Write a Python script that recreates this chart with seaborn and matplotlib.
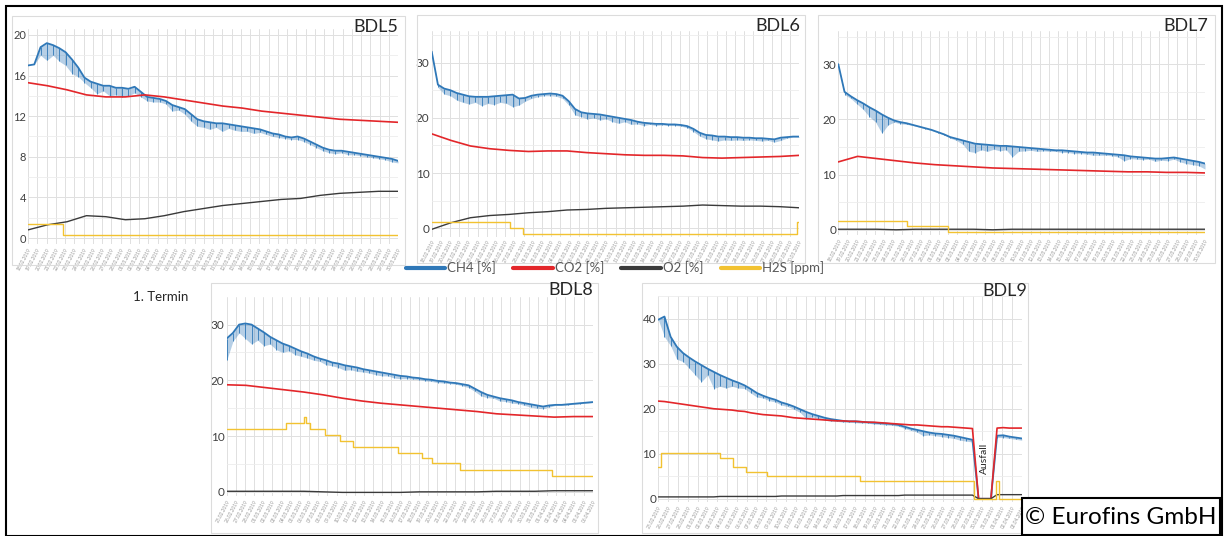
import numpy as np
import pandas as pd
import matplotlib
matplotlib.use("Agg")
import matplotlib.pyplot as plt
import seaborn as sns
from matplotlib.lines import Line2D
from matplotlib.patches import Rectangle

# -------------------------- data --------------------------
SERIES = ["CH4 [%]", "CO2 [%]", "O2 [%]", "H2S [ppm]"]

# CH4: main line + lower edge of the spiky band, 60 samples over the time axis
bdl5_ch4 = [17.0, 17.1, 18.8, 19.2, 19.0, 18.7, 18.3, 17.6, 16.8, 15.8,
            15.4, 15.2, 15.0, 15.0, 14.8, 14.8, 14.7, 14.9, 14.4, 13.9,
            13.8, 13.7, 13.5, 13.1, 12.9, 12.7, 12.2, 11.7, 11.5, 11.4,
            11.3, 11.3, 11.2, 11.1, 11.0, 10.9, 10.8, 10.7, 10.5, 10.3,
            10.2, 10.0, 9.9, 10.0, 9.8, 9.5, 9.2, 8.9, 8.7, 8.6,
            8.6, 8.5, 8.4, 8.3, 8.2, 8.1, 8.0, 7.9, 7.8, 7.6]
bdl5_ch4_low = [17.0, 17.1, 18.0, 17.5, 18.0, 17.4, 17.0, 16.2, 15.9, 15.3,
                14.8, 14.2, 14.5, 14.0, 14.1, 13.9, 14.0, 14.3, 13.9, 13.5,
                13.4, 13.4, 13.2, 12.5, 12.6, 12.2, 11.5, 11.0, 10.9, 10.7,
                10.9, 10.5, 10.8, 10.6, 10.5, 10.5, 10.3, 10.4, 10.2, 10.0,
                9.9, 9.8, 9.7, 9.7, 9.5, 9.2, 8.9, 8.6, 8.4, 8.3,
                8.4, 8.2, 8.2, 8.1, 8.0, 7.9, 7.8, 7.7, 7.5, 7.4]
bdl5_co2 = [15.3, 15.0, 14.6, 14.1, 13.9, 13.9, 14.1, 13.9, 13.6, 13.3,
            13.0, 12.8, 12.5, 12.3, 12.1, 11.9, 11.7, 11.6, 11.5, 11.4]
bdl5_o2 = [0.8, 1.3, 1.6, 2.2, 2.1, 1.8, 1.9, 2.2, 2.6, 2.9,
           3.2, 3.4, 3.6, 3.8, 3.9, 4.2, 4.4, 4.5, 4.6, 4.6]
bdl5_h2s_t = [0.0, 0.095]
bdl5_h2s = [1.4, 0.3]

bdl6_ch4 = [32.0, 26.0, 25.3, 25.0, 24.5, 24.2, 23.9, 23.8, 23.8, 23.8,
            23.9, 24.0, 24.1, 24.2, 23.5, 23.6, 24.0, 24.2, 24.3, 24.4,
            24.3, 24.0, 23.0, 21.6, 21.0, 20.8, 20.7, 20.6, 20.4, 20.2,
            20.0, 19.8, 19.6, 19.3, 19.1, 19.0, 18.9, 18.9, 18.8, 18.8,
            18.7, 18.5, 18.0, 17.3, 16.9, 16.8, 16.6, 16.6, 16.5, 16.5,
            16.4, 16.4, 16.3, 16.3, 16.2, 16.1, 16.4, 16.5, 16.6, 16.6]
bdl6_ch4_low = [32.0, 25.5, 24.3, 24.0, 23.2, 22.8, 22.5, 22.8, 22.2, 22.6,
                22.4, 22.8, 22.6, 22.0, 22.3, 23.0, 23.5, 23.8, 24.0, 24.0,
                23.9, 23.5, 22.3, 20.5, 20.2, 19.8, 20.0, 19.6, 19.8, 19.3,
                19.0, 19.3, 18.8, 18.9, 18.6, 18.8, 18.6, 18.7, 18.6, 18.6,
                18.5, 18.2, 17.5, 16.7, 16.2, 16.0, 15.8, 16.0, 15.9, 16.0,
                15.9, 16.0, 15.9, 15.8, 15.9, 15.6, 15.9, 16.3, 16.5, 16.5]
bdl6_co2 = [17.1, 15.9, 14.9, 14.4, 14.1, 13.9, 14.0, 14.0, 13.7, 13.5,
            13.3, 13.2, 13.2, 13.1, 12.8, 12.7, 12.8, 12.9, 13.0, 13.2]
bdl6_o2 = [-0.2, 1.0, 1.9, 2.3, 2.5, 2.8, 3.0, 3.3, 3.4, 3.6,
           3.7, 3.8, 3.9, 4.0, 4.2, 4.1, 4.0, 4.0, 3.9, 3.7]
bdl6_h2s_t = [0.0, 0.213, 0.249, 0.993]
bdl6_h2s = [1.2, 0.0, -1.0, 1.2]

bdl7_ch4 = [30.0, 25.0, 24.2, 23.5, 22.9, 22.2, 21.6, 20.9, 20.3, 19.8,
            19.5, 19.3, 19.0, 18.7, 18.4, 18.1, 17.7, 17.3, 16.8, 16.5,
            16.2, 15.9, 15.6, 15.5, 15.4, 15.3, 15.2, 15.2, 15.1, 15.0,
            14.9, 14.8, 14.7, 14.6, 14.5, 14.4, 14.4, 14.3, 14.2, 14.1,
            14.0, 14.0, 13.9, 13.8, 13.7, 13.6, 13.5, 13.3, 13.2, 13.1,
            13.0, 12.9, 12.9, 13.0, 13.1, 12.9, 12.7, 12.5, 12.3, 12.0]
bdl7_ch4_low = [30.0, 24.5, 23.8, 22.8, 21.8, 20.5, 19.5, 17.5, 19.0, 19.5,
                19.2, 19.1, 18.9, 18.6, 18.3, 18.0, 17.6, 17.2, 16.6, 16.2,
                15.5, 14.2, 14.0, 14.5, 14.2, 14.6, 14.3, 14.5, 13.2, 14.2,
                14.3, 14.4, 14.2, 14.3, 14.2, 14.2, 14.0, 14.0, 13.8, 13.8,
                13.7, 13.5, 13.5, 13.5, 13.4, 13.2, 12.5, 12.9, 12.8, 12.7,
                12.8, 12.4, 12.6, 12.5, 12.8, 12.3, 12.0, 11.8, 11.6, 11.0]
bdl7_co2 = [12.3, 13.3, 12.9, 12.5, 12.1, 11.8, 11.6, 11.4, 11.2, 11.1,
            11.0, 10.9, 10.8, 10.7, 10.6, 10.5, 10.5, 10.4, 10.4, 10.3]
bdl7_o2 = [0.1, 0.1, 0.1, 0.0, 0.1, 0.1, 0.1, 0.1, 0.0, 0.1,
           0.1, 0.1, 0.1, 0.1, 0.1, 0.1, 0.1, 0.1, 0.1, 0.1]
bdl7_h2s_t = [0.0, 0.186, 0.30]
bdl7_h2s = [1.6, 0.6, -0.45]

bdl8_ch4 = [27.5, 28.5, 30.0, 30.2, 30.0, 29.3, 28.6, 27.8, 27.2, 26.6,
            26.2, 25.7, 25.2, 24.8, 24.3, 23.9, 23.6, 23.2, 23.0, 22.7,
            22.5, 22.3, 22.0, 21.8, 21.6, 21.4, 21.2, 21.0, 20.8, 20.7,
            20.5, 20.4, 20.2, 20.1, 19.9, 19.8, 19.6, 19.5, 19.3, 19.1,
            18.5, 17.9, 17.4, 17.1, 16.8, 16.6, 16.4, 16.1, 15.9, 15.7,
            15.5, 15.3, 15.5, 15.6, 15.6, 15.7, 15.8, 15.9, 16.0, 16.1]
bdl8_ch4_low = [23.6, 27.0, 28.5, 27.5, 26.5, 27.2, 26.2, 26.5, 25.5, 25.0,
                25.3, 24.6, 24.3, 24.0, 23.6, 23.4, 22.8, 22.6, 22.3, 21.8,
                21.9, 21.6, 21.5, 21.3, 21.0, 20.8, 20.8, 20.4, 20.3, 20.3,
                20.2, 20.1, 19.9, 19.8, 19.6, 19.5, 19.4, 19.3, 19.0, 18.7,
                18.0, 17.2, 16.9, 16.8, 16.3, 16.2, 15.9, 15.8, 15.5, 15.2,
                15.0, 14.9, 15.2, 15.5, 15.5, 15.6, 15.7, 15.8, 15.9, 16.0]
bdl8_co2 = [19.2, 19.1, 18.7, 18.3, 17.9, 17.4, 16.8, 16.3, 15.9, 15.6,
            15.3, 15.0, 14.7, 14.4, 14.0, 13.8, 13.6, 13.4, 13.5, 13.5]
bdl8_o2 = [0.1, 0.1, 0.1, 0.1, 0.1, 0.0, -0.1, -0.1, -0.1, -0.1,
           0.0, 0.0, 0.0, 0.0, 0.1, 0.1, 0.1, 0.2, 0.2, 0.2]
bdl8_h2s_t = [0.0, 0.161, 0.210, 0.216, 0.228, 0.269, 0.310, 0.346,
              0.469, 0.533, 0.560, 0.637, 0.888]
bdl8_h2s = [11.2, 12.3, 13.5, 12.3, 11.2, 10.2, 9.1, 8.1,
            7.0, 6.0, 5.1, 3.9, 2.9]

bdl9_ch4 = [39.8, 40.5, 36.0, 33.8, 32.4, 31.4, 30.5, 29.7, 28.9, 28.2,
            27.5, 26.9, 26.3, 25.8, 25.2, 24.4, 23.5, 22.9, 22.4, 22.0,
            21.4, 21.0, 20.5, 19.9, 19.3, 18.8, 18.4, 18.0, 17.7, 17.5,
            17.3, 17.2, 17.2, 17.1, 17.0, 16.9, 16.8, 16.7, 16.6, 16.4,
            16.0, 15.6, 15.3, 15.0, 14.7, 14.5, 14.4, 14.2, 14.0, 13.7,
            13.4, 13.1, 0.0, 0.0, 0.0, 14.0, 14.1, 13.8, 13.6, 13.4]
bdl9_ch4_low = [39.8, 36.0, 34.0, 31.0, 30.5, 29.0, 27.5, 26.0, 27.5, 24.5,
                25.0, 24.6, 25.0, 24.6, 24.5, 23.5, 22.6, 22.4, 21.8, 21.5,
                20.8, 20.5, 19.9, 19.2, 17.8, 18.2, 17.8, 17.5, 17.2, 17.2,
                17.0, 17.0, 16.9, 16.8, 16.8, 16.6, 16.5, 16.4, 16.3, 16.1,
                15.6, 15.2, 14.8, 14.0, 14.2, 14.0, 13.8, 13.6, 13.4, 13.0,
                12.8, 12.6, 0.0, 0.0, 0.0, 13.6, 13.6, 13.4, 13.2, 13.0]
bdl9_co2 = [21.7, 21.6, 21.4, 21.2, 21.0, 20.8, 20.6, 20.4, 20.2, 20.0,
            19.9, 19.8, 19.7, 19.5, 19.4, 19.1, 18.9, 18.7, 18.6, 18.5,
            18.4, 18.2, 18.0, 17.9, 17.8, 17.7, 17.6, 17.5, 17.4, 17.3,
            17.3, 17.2, 17.2, 17.1, 17.0, 17.0, 16.9, 16.8, 16.7, 16.6,
            16.5, 16.4, 16.4, 16.3, 16.2, 16.1, 16.0, 16.0, 15.9, 15.8,
            15.7, 15.6, 0.0, 0.0, 0.0, 15.7, 15.8, 15.7, 15.7, 15.7]
bdl9_o2 = [0.4, 0.4, 0.4, 0.4, 0.4, 0.4, 0.4, 0.4, 0.4, 0.4,
           0.5, 0.5, 0.5, 0.5, 0.5, 0.5, 0.5, 0.5, 0.5, 0.5,
           0.6, 0.6, 0.6, 0.6, 0.6, 0.6, 0.6, 0.6, 0.6, 0.6,
           0.7, 0.7, 0.7, 0.7, 0.7, 0.7, 0.7, 0.7, 0.7, 0.7,
           0.8, 0.8, 0.8, 0.8, 0.8, 0.8, 0.8, 0.8, 0.8, 0.8,
           0.8, 0.8, 0.0, 0.0, 0.0, 0.9, 0.9, 0.9, 0.9, 0.9]
bdl9_h2s_t = [0.0, 0.007, 0.170, 0.205, 0.240, 0.300, 0.555, 0.869, 0.928, 0.938]
bdl9_h2s = [7.0, 10.1, 9.0, 7.0, 6.0, 5.0, 4.0, 0.0, 4.0, 0.0]

# date labels of the category axis (unreadable in the picture)
dates_bdl5 = pd.date_range("2019-02-18", periods=41, freq="D").strftime("%d.%m.%Y").tolist()
dates_bdl6 = pd.date_range("2019-02-18", periods=41, freq="D").strftime("%d.%m.%Y").tolist()
dates_bdl7 = pd.date_range("2019-02-18", periods=41, freq="D").strftime("%d.%m.%Y").tolist()
dates_bdl8 = pd.date_range("2019-02-25", periods=41, freq="D").strftime("%d.%m.%Y").tolist()
dates_bdl9 = pd.date_range("2019-02-25", periods=38, freq="D").strftime("%d.%m.%Y").tolist()

DATA = {
    "BDL5": (bdl5_ch4, bdl5_ch4_low, bdl5_co2, bdl5_o2, bdl5_h2s_t, bdl5_h2s, dates_bdl5),
    "BDL6": (bdl6_ch4, bdl6_ch4_low, bdl6_co2, bdl6_o2, bdl6_h2s_t, bdl6_h2s, dates_bdl6),
    "BDL7": (bdl7_ch4, bdl7_ch4_low, bdl7_co2, bdl7_o2, bdl7_h2s_t, bdl7_h2s, dates_bdl7),
    "BDL8": (bdl8_ch4, bdl8_ch4_low, bdl8_co2, bdl8_o2, bdl8_h2s_t, bdl8_h2s, dates_bdl8),
    "BDL9": (bdl9_ch4, bdl9_ch4_low, bdl9_co2, bdl9_o2, bdl9_h2s_t, bdl9_h2s, dates_bdl9),
}

# -------------------------- layout (pixels) --------------------------
W, H = 1226, 536
COLORS = ["#2f78b8", "#e3262a", "#3a3a3a", "#f2c231"]

PANELS = {
    "BDL5": dict(box=(12, 16, 405, 265), plot=(28, 28.9, 398, 244.1), ylim=(-0.6, 20.6),
                 yt=[0, 4, 8, 12, 16, 20], ym=[2, 6, 10, 14, 18], title=(398, 32), fs=8),
    "BDL6": dict(box=(417, 15, 805, 263), plot=(431.7, 30.6, 799.3, 236.5), ylim=(-1.5, 35.8),
                 yt=[0, 10, 20, 30], ym=[5, 15, 25, 35], title=(800, 31), fs=8.5),
    "BDL7": dict(box=(818, 15, 1215, 263), plot=(838.3, 31.1, 1205, 235.3), ylim=(-1.0, 36.0),
                 yt=[0, 10, 20, 30], ym=[5, 15, 25, 35], title=(1208, 31), fs=8.5),
    "BDL8": dict(box=(211, 283, 598, 533), plot=(226.7, 296.7, 592.7, 496.3), ylim=(-0.8, 35.0),
                 yt=[0, 10, 20, 30], ym=[5, 15, 25], title=(593, 295), fs=8.5),
    "BDL9": dict(box=(642, 283, 1028, 533), plot=(658.3, 296.3, 1021.7, 502.3), ylim=(-0.8, 45.0),
                 yt=[0, 10, 20, 30, 40], ym=[5, 15, 25, 35, 45], title=(1027, 296), fs=8.5),
}


def fig_rect(x0, y0, x1, y1):
    return [x0 / W, 1 - y1 / H, (x1 - x0) / W, (y1 - y0) / H]


sns.set_style("white")
plt.rcParams["font.family"] = ["Lato", "DejaVu Sans"]

fig = plt.figure(figsize=(W / 100, H / 100), dpi=100)

for name, p in PANELS.items():
    ch4, ch4_low, co2, o2, h2s_t, h2s, dates = DATA[name]

    bx0, by0, bx1, by1 = p["box"]
    fig.add_artist(Rectangle((bx0 / W, 1 - by1 / H), (bx1 - bx0) / W, (by1 - by0) / H,
                             transform=fig.transFigure, fill=False, ec="#dcdcdc", lw=0.8))

    ax = fig.add_axes(fig_rect(*p["plot"]))
    ax.set_facecolor("none")
    for s in ax.spines.values():
        s.set_visible(False)

    # grid + category (date) axis
    xt = np.linspace(0, 1, len(dates))
    ax.set_xticks(xt)
    ax.set_xticklabels(dates, rotation=62, ha="right", rotation_mode="anchor",
                       fontsize=3.5, color="#9a9a9a")
    ax.set_yticks(p["yt"])
    ax.set_yticks(p["ym"], minor=True)
    ax.tick_params(axis="both", which="both", length=0)
    ax.tick_params(axis="x", pad=2)
    ax.tick_params(axis="y", pad=1.5, labelsize=p["fs"], labelcolor="#404040")
    ax.grid(True, which="major", color="#e0e0e0", lw=0.7)
    ax.grid(True, which="minor", axis="y", color="#ededed", lw=0.6)
    ax.set_axisbelow(True)

    # CH4: noisy band + main line
    x_ch4 = np.linspace(0, 1, len(ch4))
    ax.fill_between(x_ch4, ch4_low, ch4, color=COLORS[0], alpha=0.35, lw=0)
    ax.vlines(x_ch4, ch4_low, ch4, color=COLORS[0], lw=0.6)
    sns.lineplot(x=x_ch4, y=ch4, ax=ax, color=COLORS[0], lw=1.3,
                 estimator=None, sort=False, legend=False)
    sns.lineplot(x=np.linspace(0, 1, len(co2)), y=co2, ax=ax, color=COLORS[1], lw=1.2,
                 estimator=None, sort=False, legend=False)
    sns.lineplot(x=np.linspace(0, 1, len(o2)), y=o2, ax=ax, color=COLORS[2], lw=1.0,
                 estimator=None, sort=False, legend=False)
    sns.lineplot(x=list(h2s_t) + [1.0], y=list(h2s) + [h2s[-1]], ax=ax, color=COLORS[3],
                 lw=1.0, drawstyle="steps-post", estimator=None, sort=False, legend=False)

    ax.set_xlim(0, 1)
    ax.set_ylim(*p["ylim"])
    ax.set_xlabel("")
    ax.set_ylabel("")

    tx, ty = p["title"]
    fig.text(tx / W, 1 - ty / H, name, ha="right", va="baseline", fontsize=13, color="#262626")

    if name == "BDL9":
        gap = np.array(co2) == 0
        gx = np.linspace(0, 1, len(co2))[gap].mean()
        ax.text(gx, 9.0, "Ausfall", rotation=90, ha="center", va="center", fontsize=7.5,
                color="#262626", zorder=5,
                bbox=dict(fc="white", ec="none", pad=1.5))

# legend
handles = [Line2D([0], [0], color=c, lw=3) for c in COLORS]
fig.legend(handles, SERIES, loc="center", bbox_to_anchor=(615 / W, 1 - 268 / H), ncol=4,
           frameon=False, fontsize=9.5, handlelength=3.0, handletextpad=0.15,
           columnspacing=1.3, labelcolor="#595959")

fig.text(133 / W, 1 - 297 / H, "1. Termin", ha="left", va="center", fontsize=9.5, color="#262626")

# copyright box
fig.add_artist(Rectangle((1022 / W, 1 - 535 / H), 198 / W, 37 / H, transform=fig.transFigure,
                         fc="white", ec="black", lw=1.5, zorder=10))
fig.text(1121 / W, 1 - 517 / H, "© Eurofins GmbH", ha="center", va="center",
         fontsize=17.5, color="black", zorder=11)

# outer frame
fig.add_artist(Rectangle((6 / W, 0), 1216 / W, 1 - 6 / H, transform=fig.transFigure,
                         fill=False, ec="black", lw=1.5, zorder=12))

fig.savefig("out.png", dpi=100)
